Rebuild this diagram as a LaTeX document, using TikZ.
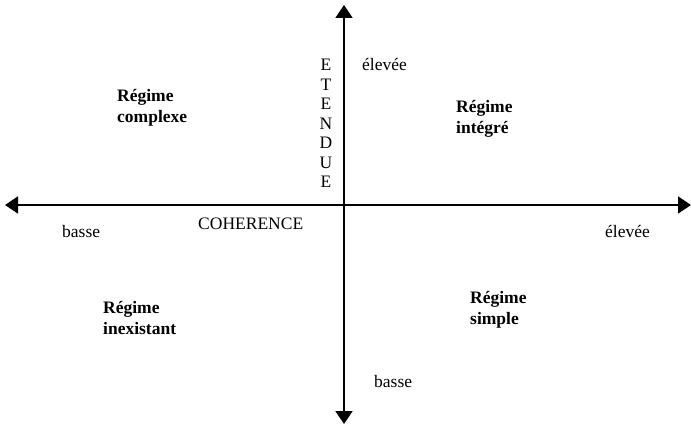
\documentclass[tikz,border=0pt]{standalone}
\usepackage{fontspec}
\setmainfont{Liberation Serif}
\usetikzlibrary{arrows.meta}
\begin{document}
\begin{tikzpicture}[x=1pt,y=-1pt,
  axis/.style={line width=1.6pt,-{Triangle[width=17pt,length=13pt]}},
  lbl/.style={anchor=base west,inner sep=0pt,font=\fontsize{17.5}{20}\selectfont},
  reg/.style={anchor=base west,inner sep=0pt,align=left,font=\fontsize{17.5}{21}\selectfont\bfseries},
  letter/.style={anchor=base,inner sep=0pt,font=\fontsize{17.5}{20}\selectfont}]
\useasboundingbox (0,0) rectangle (691,425);
\coordinate (top) at (344,5);
\coordinate (bot) at (344,424);
\coordinate (lft) at (5,205);
\coordinate (rgt) at (691,205);
\coordinate (o) at (344,205);
\draw[axis] (o) -- (top);
\draw[axis] (o) -- (bot);
\draw[axis] (o) -- (lft);
\draw[axis] (o) -- (rgt);
% vertical axis label
\node[letter] (e1) at (326,71) {E};
\node[letter] (e2) at (326,90.5) {T};
\node[letter] (e3) at (326,110) {E};
\node[letter] (e4) at (326,129.5) {N};
\node[letter] (e5) at (326,149) {D};
\node[letter] (e6) at (326,168.5) {U};
\node[letter] (e7) at (326,188) {E};
\node[lbl] (hi1) at (362,71) {élevée};
\node[lbl] (lo1) at (374,387) {basse};
\node[lbl] (lo2) at (62,237) {basse};
\node[lbl] (hi2) at (605,237) {élevée};
\node[lbl] (coh) at (198,229) {COHERENCE};
% regimes (base = baseline of second line)
\node[reg] (rc) at (117,123) {Régime\\complexe};
\node[reg] (ri) at (456,134) {Régime\\intégré};
\node[reg] (rx) at (103,334) {Régime\\inexistant};
\node[reg] (rs) at (470,324) {Régime\\simple};
\end{tikzpicture}
\end{document}
